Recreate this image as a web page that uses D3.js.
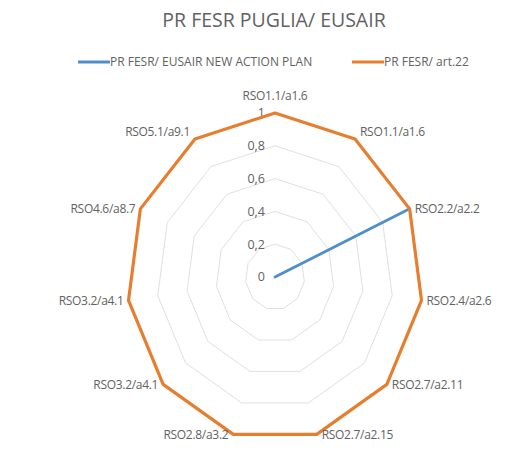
<!DOCTYPE html>
<html>
<head>
<meta charset="utf-8">
<script src="https://cdn.jsdelivr.net/npm/d3@7"></script>
<style>
  body { margin: 0; background: #fff; }
  text { font-family: "Open Sans", sans-serif; fill: #626262; }
</style>
</head>
<body>
<div id="chart"></div>
<script>
const width = 527;
const height = 450;

// categories round the radar, clockwise from the top
const categories = [
  "RSO1.1/a1.6", "RSO1.1/a1.6", "RSO2.2/a2.2", "RSO2.4/a2.6", "RSO2.7/a2.11",
  "RSO2.7/a2.15", "RSO2.8/a3.2", "RSO3.2/a4.1", "RSO3.2/a4.1", "RSO4.6/a8.7", "RSO5.1/a9.1"
];
const seriesNames = ["PR FESR/ EUSAIR NEW ACTION PLAN", "PR FESR/ art.22"];
const actionPlan = [0, 0, 1, 0, 0, 0, 0, 0, 0, 0, 0];
const art22 = [1, 1, 1, 1, 1, 1, 1, 1, 1, 1, 1];
const ticks = [0, 0.2, 0.4, 0.6, 0.8, 1];
const colors = ["#4f8fc8", "#e67e30"];

const cx = 275, cy = 277;
const rx = d3.scaleLinear().domain([0, 1]).range([0, 148]);
const ry = d3.scaleLinear().domain([0, 1]).range([0, 164]);
const angle = d3.scaleLinear().domain([0, categories.length]).range([0, 2 * Math.PI]);

const px = (v, i) => cx + rx(v) * Math.sin(angle(i));
const py = (v, i) => cy - ry(v) * Math.cos(angle(i));

const svg = d3.select("#chart").append("svg")
  .attr("width", width)
  .attr("height", height);

// title
svg.append("text")
  .attr("x", 274).attr("y", 27)
  .attr("text-anchor", "middle")
  .style("font-size", "19.5px")
  .text("PR FESR PUGLIA/ EUSAIR");

// legend
const legendX = [78, 352];
const legend = svg.append("g")
  .selectAll("g")
  .data(seriesNames)
  .join("g")
  .attr("transform", (d, i) => `translate(${legendX[i]},62)`);
legend.append("line")
  .attr("x1", 0).attr("x2", 32)
  .attr("stroke", (d, i) => colors[i])
  .attr("stroke-width", 3);
legend.append("text")
  .attr("x", 32).attr("dy", "0.35em")
  .style("font-size", "12px")
  .text(d => d);

// grid rings
const ringLine = d3.line().x(d => d[0]).y(d => d[1]);
svg.append("g")
  .selectAll("path")
  .data(ticks.filter(t => t > 0))
  .join("path")
  .attr("d", t => ringLine(categories.map((c, i) => [px(t, i), py(t, i)])) + "Z")
  .attr("fill", "none")
  .attr("stroke", "#e0e0e0")
  .attr("stroke-width", 1);

// tick labels
svg.append("g")
  .selectAll("text")
  .data(ticks)
  .join("text")
  .attr("x", cx - 10)
  .attr("y", t => cy - ry(t))
  .attr("dy", "0.35em")
  .attr("text-anchor", "end")
  .style("font-size", "12.5px")
  .text(t => d3.format(".1~f")(t).replace(".", ","));

// series
const series = [actionPlan, art22];
svg.append("g")
  .selectAll("path")
  .data(series)
  .join("path")
  .attr("d", vals => ringLine(vals.map((v, i) => [px(v, i), py(v, i)])) + "Z")
  .attr("fill", "none")
  .attr("stroke", (d, i) => colors[i])
  .attr("stroke-width", (d, i) => i === 1 ? 3.2 : 2.8)
  .attr("stroke-linejoin", "round");

// category labels
svg.append("g")
  .selectAll("text")
  .data(categories)
  .join("text")
  .attr("x", (d, i) => {
    const s = Math.sin(angle(i));
    return px(1, i) + (Math.abs(s) < 0.01 ? 0 : (s > 0 ? 5 : -5));
  })
  .attr("y", (d, i) => {
    const c = Math.cos(angle(i));
    if (i === 0) return py(1, i) - 17;
    return py(1, i) - (c > 0.5 ? 7 : 0);
  })
  .attr("dy", "0.35em")
  .attr("text-anchor", (d, i) => {
    const s = Math.sin(angle(i));
    return Math.abs(s) < 0.01 ? "middle" : (s > 0 ? "start" : "end");
  })
  .style("font-size", "12px")
  .style("letter-spacing", "-0.3px")
  .text(d => d);
</script>
</body>
</html>
